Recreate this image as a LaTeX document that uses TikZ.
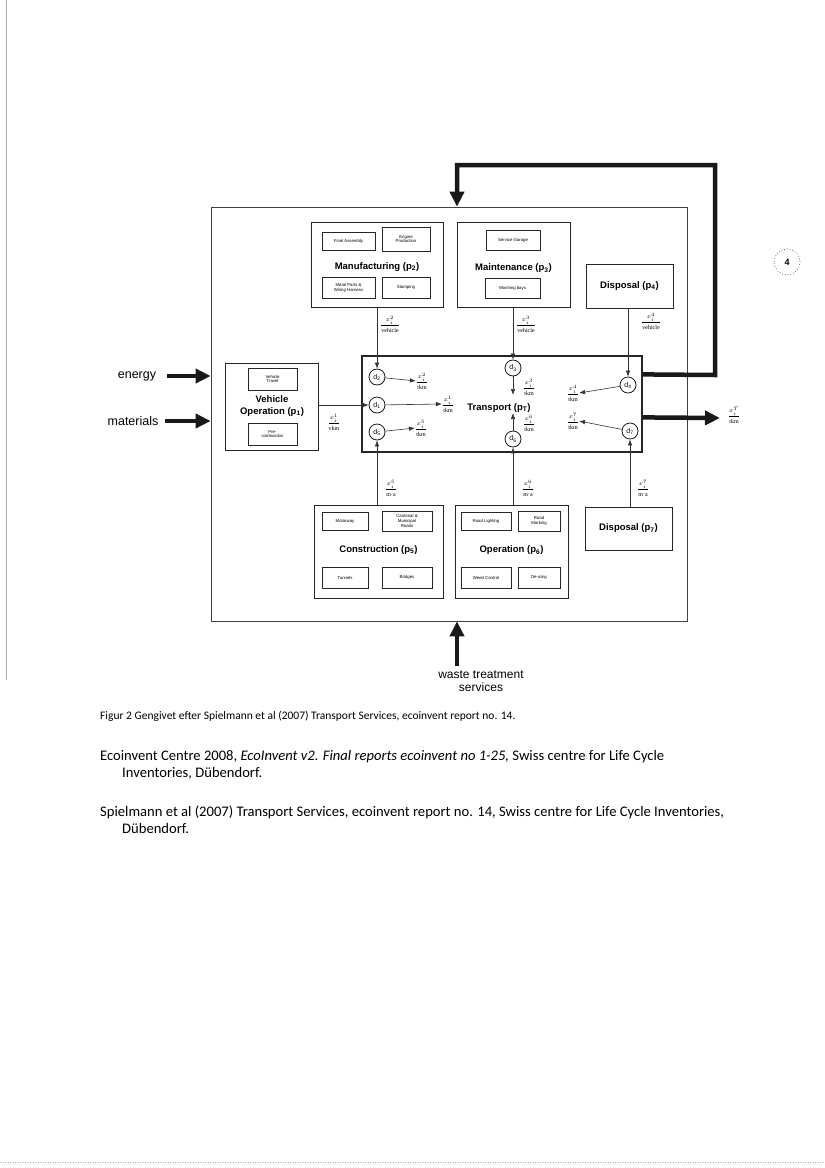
\documentclass[tikz,border=0pt]{standalone}
\usepackage{fontspec}
\setmainfont{Liberation Sans}
\newfontfamily\carl{Carlito}
\newfontfamily\serifd{Liberation Serif}
\usetikzlibrary{arrows.meta,calc}
\tikzset{
 proc/.style={draw=black!85,line width=0.8pt,inner sep=0pt},
 subbox/.style={draw=black!85,line width=0.7pt,inner sep=0pt,align=center,font=\fontsize{4.3}{4.9}\selectfont},
 ptitle/.style={font=\bfseries\fontsize{9.5}{11}\selectfont,inner sep=0pt,align=center},
 dnode/.style={circle,draw=black!90,line width=0.8pt,minimum size=16pt,inner sep=0pt,font=\fontsize{7}{8}\selectfont},
 flabel/.style={inner sep=0pt,font=\fontsize{6}{7}\selectfont},
 conn/.style={draw=black!80,line width=0.6pt},
 arr/.style={conn,-{Latex[length=6pt,width=4.5pt]}},
 fat/.style={line width=4.5pt,draw=black!90},
 fatarr/.style={fat,-{Triangle[length=15pt,width=14pt]}},
 sidetxt/.style={inner sep=0pt,font=\fontsize{12.5}{14}\selectfont},
 captxt/.style={inner sep=0pt,anchor=west,font=\carl\fontsize{11.5}{13}\selectfont},
 reftxt/.style={inner sep=0pt,anchor=west,font=\carl\fontsize{14.6}{17}\selectfont},
}
\newcommand{\xfr}[2]{$\displaystyle\frac{x_i^{#1}}{\hbox{\serifd #2}}$}
\begin{document}
\begin{tikzpicture}[x=1pt,y=-1pt]
\useasboundingbox (0,0) rectangle (825,1168);
% scan edges
\draw[black!35,line width=0.6pt] (6,0) -- (6,680);
\draw[black!30,line width=0.5pt,dotted] (0,1162) -- (825,1162);

% outer box
\node[proc,draw=black!75,line width=0.7pt,minimum width=476pt,minimum height=414pt] (outer) at (449,414) {};

% Manufacturing
\node[proc,minimum width=132pt,minimum height=85pt] (manuf) at (377,264.5) {};
\node[subbox,minimum width=53pt,minimum height=18pt] (fa) at (348.5,241) {Final Assembly};
\node[subbox,minimum width=48pt,minimum height=24pt] (ep) at (406,239) {Engine\\Production};
\node[subbox,minimum width=53pt,minimum height=21pt] (mp) at (348.5,287.5) {Metal Parts \&\\Wiring Harness};
\node[subbox,minimum width=48pt,minimum height=21pt] (st) at (406,287.5) {Stamping};
\node[ptitle] (manuft) at (377,267) {Manufacturing (p\textsubscript{2})};

% Maintenance
\node[proc,minimum width=113pt,minimum height=85pt] (maint) at (513.5,264.5) {};
\node[subbox,minimum width=54pt,minimum height=20pt] (sg) at (513,240) {Service Garage};
\node[ptitle] (maintt) at (513.5,268) {Maintenance (p\textsubscript{3})};
\node[subbox,minimum width=55pt,minimum height=20pt] (wb) at (512.5,288) {Washing bays};

% Disposal p4
\node[proc,minimum width=87pt,minimum height=44pt,ptitle] (disp4) at (629.5,286) {Disposal (p\textsubscript{4})};

% Vehicle operation
\node[proc,minimum width=93pt,minimum height=87pt] (vehop) at (271.5,406.5) {};
\node[subbox,minimum width=49pt,minimum height=22pt] (vt) at (272.5,379) {Vehicle\\Travel};
\node[ptitle,font=\bfseries\fontsize{9.5}{12}\selectfont] (vehopt) at (272,406) {Vehicle\\Operation (p\textsubscript{1})};
\node[subbox,minimum width=49pt,minimum height=22pt] (pc) at (272.5,434) {Pre-\\combustion};

% Transport
\node[proc,line width=1.2pt,minimum width=280pt,minimum height=96pt] (tp) at (502,404) {};
\node[ptitle] (tpt) at (499,408) {Transport (p\textsubscript{T})};

% Construction
\node[proc,minimum width=129pt,minimum height=93pt] (constr) at (378.5,551.5) {};
\node[subbox,minimum width=46pt,minimum height=18pt] (mw) at (345,521) {Motorway};
\node[subbox,minimum width=50pt,minimum height=20pt] (cr) at (407,521) {Cantonal \&\\Municipal\\Roads};
\node[ptitle] (constrt) at (378.5,550) {Construction (p\textsubscript{5})};
\node[subbox,minimum width=46pt,minimum height=21pt] (tu) at (345,577.5) {Tunnels};
\node[subbox,minimum width=50pt,minimum height=21pt] (br) at (407,577.5) {Bridges};

% Operation
\node[proc,minimum width=113pt,minimum height=93pt] (oper) at (511.5,551.5) {};
\node[subbox,minimum width=50pt,minimum height=18pt] (rl) at (486,521) {Road Lighting};
\node[subbox,minimum width=42pt,minimum height=20pt] (rm) at (539,521) {Road\\Marking};
\node[ptitle] (opert) at (511.5,550) {Operation (p\textsubscript{6})};
\node[subbox,minimum width=50pt,minimum height=21pt] (wc) at (486,577.5) {Weed Control};
\node[subbox,minimum width=42pt,minimum height=21pt] (di) at (539,577.5) {De-icing};

% Disposal p7
\node[proc,minimum width=87pt,minimum height=43pt,ptitle] (disp7) at (628.5,528.5) {Disposal (p\textsubscript{7})};

% d circles
\node[dnode] (d2) at (377,377) {d\textsubscript{2}};
\node[dnode] (d1) at (377,405) {d\textsubscript{1}};
\node[dnode] (d5) at (377,432) {d\textsubscript{5}};
\node[dnode] (d3) at (513,368) {d\textsubscript{3}};
\node[dnode] (d6) at (513,439) {d\textsubscript{6}};
\node[dnode] (d4) at (628,385) {d\textsubscript{4}};
\node[dnode] (d7) at (630,431) {d\textsubscript{7}};

% flow labels inside transport
\node[flabel] (l2) at (422,381) {\xfr{2}{tkm}};
\node[flabel] (l1) at (448,404) {\xfr{1}{tkm}};
\node[flabel] (l5) at (421,428) {\xfr{5}{tkm}};
\node[flabel] (l3) at (529,387) {\xfr{3}{tkm}};
\node[flabel] (l6) at (529,423) {\xfr{6}{tkm}};
\node[flabel] (l4) at (573,393) {\xfr{4}{tkm}};
\node[flabel] (l7) at (573,421) {\xfr{7}{tkm}};
\coordinate (c3) at (513,395);
\coordinate (c6) at (513,413);

\draw[arr] (d2) -- (l2.west);
\draw[arr] (d1) -- (l1.west);
\draw[arr] (d5) -- (l5.west);
\draw[arr] (d3) -- (c3);
\draw[arr] (d6) -- (c6);
\draw[arr] (d4) -- (l4.east);
\draw[arr] (d7) -- (l7.east);

% connector labels
\node[flabel] (lm) at (390,324) {\xfr{2}{vehicle}};
\node[flabel] (lmt) at (526,324) {\xfr{3}{vehicle}};
\node[flabel] (ld4) at (651,321) {\xfr{4}{vehicle}};
\node[flabel] (lv) at (334,422) {\xfr{1}{vkm}};
\node[flabel] (lc) at (391,488) {\xfr{5}{m·a}};
\node[flabel] (lo) at (528,488) {\xfr{6}{m·a}};
\node[flabel] (ld7) at (643,488) {\xfr{7}{m·a}};
\node[flabel] (lT) at (734,415) {\xfr{T}{tkm}};

% vertical connectors
\draw[arr] (manuf.south -| d2) -- (d2.north);
\draw[arr] (maint.south -| d3) -- (d3.north);
\draw[arr] (disp4.south -| d4) -- (d4.north);
\draw[arr] (constr.north -| d5) -- (d5.south);
\draw[arr] (oper.north -| d6) -- (d6.south);
\draw[arr] (disp7.north -| d7) -- (d7.south);
\draw[arr] (vehop.east |- d1) -- (d1.west);

% thick flows
\coordinate (fbstart) at ($(tp.north east)+(0,19)$);
\coordinate (fbend) at ($(outer.north)+(8,0)$);
\draw[fatarr] (fbstart) -- (715,375) -- (715,165) -- (fbend |- 0,165) -- (fbend);
\coordinate (tstart) at ($(tp.north east)+(0,62)$);
\coordinate (tend) at (720,418);
\draw[fatarr] (tstart) -- (tend);

\node[sidetxt] (energy) at (137,376) {energy};
\node[sidetxt] (materials) at (133,421) {materials};
\draw[fatarr] (167,376) -- (outer.west |- energy);
\draw[fatarr] (165,421) -- (outer.west |- materials);

\node[sidetxt,align=center,font=\fontsize{12}{13}\selectfont] (waste) at (481,681) {waste treatment\\services};
\coordinate (wtop) at ($(outer.south)+(8,0)$);
\draw[fatarr] (wtop |- 0,666) -- (wtop);

% page number mark
\node[circle,draw=black!55,dotted,line width=0.8pt,minimum size=26pt,inner sep=0pt,font=\bfseries\fontsize{9}{10}\selectfont] (pg) at (787,262) {4};

% caption and references
\node[captxt] (cap) at (100,716) {Figur 2 Gengivet efter Spielmann et al (2007) Transport Services, ecoinvent report no. 14.};
\node[reftxt] (r1a) at (100,757) {Ecoinvent Centre 2008, \textit{EcoInvent v2. Final reports ecoinvent no 1-25,} Swiss centre for Life Cycle};
\node[reftxt] (r1b) at (122,773) {Inventories, Dübendorf.};
\node[reftxt] (r2a) at (100,812) {Spielmann et al (2007) Transport Services, ecoinvent report no. 14, Swiss centre for Life Cycle Inventories,};
\node[reftxt] (r2b) at (122,828) {Dübendorf.};
\end{tikzpicture}
\end{document}
